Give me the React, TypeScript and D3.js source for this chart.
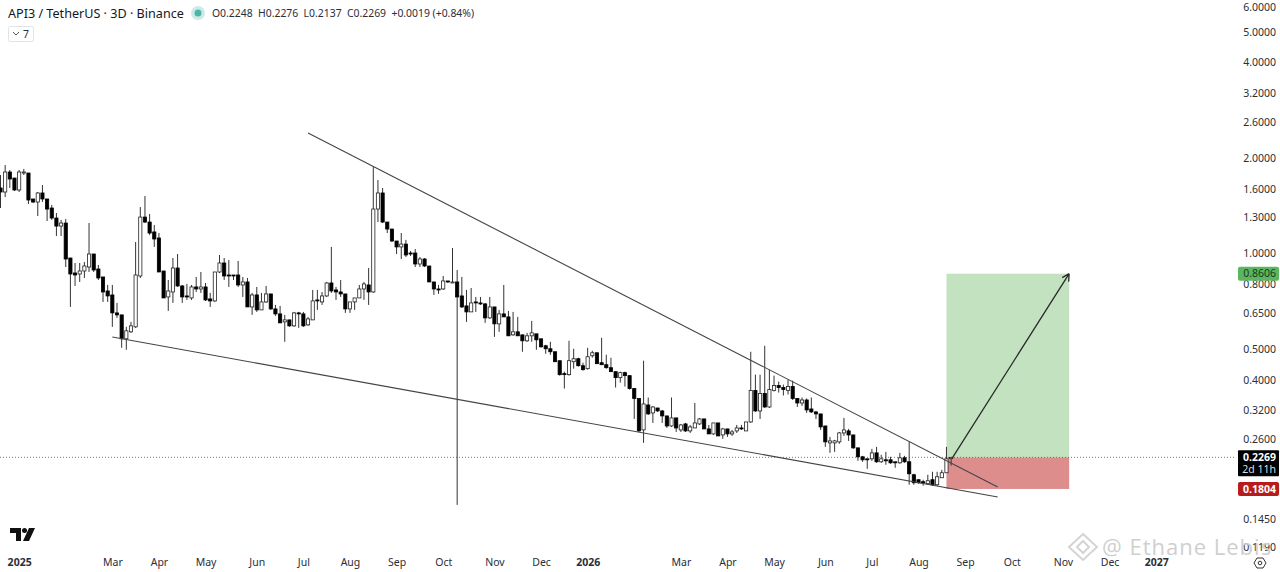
import React, { useRef, useEffect } from 'react';
import * as d3 from 'd3';

const WIDTH = 1280;
const HEIGHT = 572;

// 3D candles, first one on 2024-12-21
const firstCandle = '2024-12-21';

const opens = [
  1.603, 1.557, 1.8, 1.723, 1.58, 1.787, 1.787, 1.48, 1.448, 1.546,
  1.48, 1.386, 1.289, 1.216, 1.243, 0.9644, 0.865, 0.8587, 0.8776, 0.9034,
  0.9928, 0.8904, 0.8403, 0.7592, 0.7375, 0.6474, 0.6381, 0.5364, 0.5643, 0.5851,
  0.8464, 1.298, 1.252, 1.165, 1.115, 0.8776, 0.7269, 0.7537, 0.8969, 0.7873,
  0.7322, 0.7217, 0.7816, 0.7703, 0.7816, 0.7165, 0.7062, 0.8713, 0.93, 0.8525,
  0.8525, 0.8525, 0.793, 0.8104, 0.6761, 0.7375, 0.6616, 0.7011, 0.7429, 0.6664,
  0.6427, 0.6066, 0.6154, 0.5893, 0.6474, 0.6427, 0.5936, 0.6154, 0.7113, 0.7011,
  0.7322, 0.8045, 0.7648, 0.7537, 0.7429, 0.6664, 0.7011, 0.7217, 0.7703, 0.793,
  0.7537, 1.376, 1.546, 1.252, 1.19, 1.091, 1.045, 1.067, 1.0, 1.0,
  0.9233, 0.9574, 0.91, 0.8104, 0.7703, 0.7703, 0.8163, 0.8045, 0.8104, 0.7322,
  0.6811, 0.6521, 0.7011, 0.696, 0.691, 0.6244, 0.6761, 0.5979, 0.6427, 0.6289,
  0.5521, 0.5643, 0.5521, 0.5287, 0.5482, 0.5562, 0.5364, 0.51, 0.499, 0.4883,
  0.4576, 0.4166, 0.4136, 0.4543, 0.4642, 0.4413, 0.4319, 0.4744, 0.4848, 0.451,
  0.4445, 0.435, 0.4226, 0.4047, 0.4196, 0.4106, 0.3738, 0.3479, 0.2769, 0.3319,
  0.3132, 0.3247, 0.3178, 0.3065, 0.285, 0.3021, 0.2769, 0.2892, 0.2749, 0.2809,
  0.2892, 0.2999, 0.2789, 0.269, 0.2913, 0.267, 0.2789, 0.269, 0.2749, 0.2809,
  0.2749, 0.2934, 0.3685, 0.3178, 0.3606, 0.3271, 0.3685, 0.382, 0.3766, 0.3685,
  0.3793, 0.3479, 0.3367, 0.3441, 0.3224, 0.3155, 0.311, 0.285, 0.252, 0.252,
  0.2539, 0.2709, 0.2749, 0.267, 0.2431, 0.2278, 0.2245, 0.2245, 0.2344, 0.2197,
  0.2229, 0.2229, 0.2197, 0.2181, 0.2261, 0.2197, 0.2, 0.1929, 0.1901, 0.1874,
  0.1929, 0.186, 0.1957, 0.2029, 0.2248,
];

const highs = [
  1.761, 1.894, 1.827, 1.723, 1.827, 1.84, 1.787, 1.48, 1.557, 1.638,
  1.48, 1.417, 1.337, 1.271, 1.28, 0.9644, 0.93, 0.93, 0.9368, 1.243,
  0.9928, 0.9166, 0.8403, 0.793, 0.793, 0.696, 0.6381, 0.5851, 0.6066, 1.083,
  1.396, 1.512, 1.327, 1.225, 1.156, 0.8776, 0.8222, 0.9644, 0.9928, 0.793,
  0.7987, 0.793, 0.8403, 0.8713, 0.8045, 0.7483, 0.8713, 0.9856, 0.9644, 0.9505,
  0.8525, 0.9436, 0.8403, 0.8342, 0.7483, 0.7816, 0.7483, 0.7873, 0.7429, 0.686,
  0.6811, 0.6381, 0.6154, 0.6521, 0.6521, 0.6521, 0.6289, 0.7648, 0.7648, 0.7537,
  0.8104, 1.045, 0.7816, 0.8222, 0.7429, 0.7011, 0.7217, 0.793, 0.8104, 0.8969,
  1.867, 1.698, 1.603, 1.252, 1.19, 1.091, 1.156, 1.1, 1.015, 1.029,
  0.9714, 0.9644, 0.91, 0.8104, 0.793, 0.8464, 0.8163, 1.037, 0.884, 0.8403,
  0.7648, 0.7759, 0.7269, 0.7269, 0.696, 0.7269, 0.6761, 0.6616, 0.793, 0.6568,
  0.6521, 0.6289, 0.5521, 0.5602, 0.611, 0.5562, 0.5364, 0.5137, 0.5249, 0.4883,
  0.4576, 0.4226, 0.5287, 0.499, 0.4676, 0.451, 0.5026, 0.4919, 0.4848, 0.5403,
  0.4779, 0.4676, 0.4226, 0.4226, 0.4226, 0.4106, 0.3738, 0.3479, 0.4576, 0.3504,
  0.3295, 0.3247, 0.3201, 0.3065, 0.3504, 0.3021, 0.2892, 0.2913, 0.2871, 0.3367,
  0.3021, 0.2999, 0.2871, 0.2913, 0.2913, 0.2809, 0.2789, 0.2769, 0.2871, 0.2871,
  0.2934, 0.4883, 0.4136, 0.4136, 0.51, 0.4288, 0.4106, 0.3932, 0.3848, 0.3989,
  0.396, 0.3479, 0.3504, 0.3479, 0.3504, 0.3178, 0.311, 0.285, 0.2632, 0.2576,
  0.2729, 0.3021, 0.2789, 0.267, 0.2431, 0.2294, 0.2245, 0.2413, 0.2448, 0.2311,
  0.2361, 0.2278, 0.2197, 0.2344, 0.2294, 0.2539, 0.2014, 0.1929, 0.1929, 0.2,
  0.2044, 0.2044, 0.2073, 0.2448, 0.2276,
];

const lows = [
  1.386, 1.501, 1.603, 1.568, 1.557, 1.761, 1.427, 1.437, 1.308, 1.448,
  1.261, 1.271, 1.131, 1.131, 0.9034, 0.6761, 0.7873, 0.8104, 0.8342, 0.8713,
  0.8713, 0.8222, 0.7011, 0.7011, 0.5851, 0.6244, 0.5026, 0.4954, 0.5602, 0.5808,
  0.8342, 1.243, 1.14, 1.045, 0.8713, 0.7217, 0.6568, 0.696, 0.7816, 0.696,
  0.7113, 0.7113, 0.7537, 0.7483, 0.7062, 0.6761, 0.7011, 0.865, 0.8222, 0.7816,
  0.8222, 0.7816, 0.7269, 0.6761, 0.6381, 0.6521, 0.6616, 0.696, 0.6616, 0.6335,
  0.6022, 0.5249, 0.5851, 0.5851, 0.5808, 0.5851, 0.5893, 0.6154, 0.6616, 0.686,
  0.7269, 0.7483, 0.7113, 0.7269, 0.6474, 0.6474, 0.6616, 0.7217, 0.7113, 0.686,
  0.7483, 1.252, 1.243, 1.156, 1.083, 0.9928, 0.9574, 0.9714, 0.9785, 0.9034,
  0.9034, 0.9034, 0.8104, 0.7375, 0.7429, 0.7648, 0.8045, 0.8045, 0.1607, 0.6712,
  0.6066, 0.6521, 0.6521, 0.686, 0.6022, 0.6199, 0.5442, 0.5643, 0.6289, 0.5482,
  0.5482, 0.5482, 0.4883, 0.5249, 0.5249, 0.4954, 0.5026, 0.4813, 0.4779, 0.4543,
  0.4106, 0.3738, 0.4106, 0.4319, 0.4382, 0.4257, 0.4288, 0.4676, 0.4478, 0.4445,
  0.4319, 0.4226, 0.3766, 0.3904, 0.3793, 0.3712, 0.2999, 0.2729, 0.252, 0.3087,
  0.2913, 0.3155, 0.2913, 0.2809, 0.283, 0.2729, 0.2729, 0.2729, 0.2709, 0.2809,
  0.2871, 0.2789, 0.269, 0.267, 0.2651, 0.2594, 0.2632, 0.2651, 0.2709, 0.2769,
  0.2749, 0.2913, 0.3155, 0.2999, 0.3247, 0.3247, 0.3659, 0.3632, 0.3554, 0.358,
  0.3441, 0.3271, 0.3295, 0.3132, 0.3132, 0.2999, 0.2769, 0.2448, 0.2344, 0.2361,
  0.2502, 0.2651, 0.2557, 0.2413, 0.2213, 0.2197, 0.2088, 0.2213, 0.2181, 0.2181,
  0.215, 0.2165, 0.2104, 0.2165, 0.2181, 0.186, 0.186, 0.1874, 0.1847, 0.186,
  0.1847, 0.1847, 0.1957, 0.2029, 0.2137,
];

const closes = [
  1.557, 1.8, 1.711, 1.58, 1.8, 1.8, 1.469, 1.448, 1.546, 1.48,
  1.376, 1.289, 1.216, 1.243, 0.9574, 0.8587, 0.8525, 0.8776, 0.91, 0.9928,
  0.884, 0.8342, 0.7537, 0.7322, 0.6474, 0.6381, 0.5364, 0.5684, 0.5893, 0.8525,
  1.298, 1.252, 1.156, 1.107, 0.8713, 0.7217, 0.7592, 0.8969, 0.7873, 0.7269,
  0.7269, 0.7816, 0.7703, 0.7816, 0.7113, 0.7062, 0.8713, 0.93, 0.8464, 0.8464,
  0.8464, 0.793, 0.8104, 0.6761, 0.7375, 0.6616, 0.7011, 0.7429, 0.6664, 0.6427,
  0.6022, 0.6154, 0.5893, 0.6474, 0.6427, 0.5893, 0.6199, 0.7062, 0.7062, 0.7322,
  0.8045, 0.7592, 0.7537, 0.7429, 0.6664, 0.7011, 0.7217, 0.7703, 0.7987, 0.7537,
  1.376, 1.546, 1.252, 1.19, 1.091, 1.045, 1.067, 0.9856, 0.9928, 0.9233,
  0.9574, 0.91, 0.8104, 0.7703, 0.7648, 0.8163, 0.8104, 0.8104, 0.7269, 0.6761,
  0.6521, 0.696, 0.696, 0.691, 0.6244, 0.6761, 0.5979, 0.6427, 0.6289, 0.5482,
  0.5643, 0.5482, 0.5287, 0.5482, 0.5602, 0.5325, 0.5063, 0.499, 0.4883, 0.4543,
  0.4136, 0.4136, 0.4576, 0.4642, 0.4413, 0.4288, 0.471, 0.4848, 0.4478, 0.4445,
  0.435, 0.4226, 0.4047, 0.4196, 0.4106, 0.3738, 0.3479, 0.2749, 0.3343, 0.311,
  0.3271, 0.3178, 0.3065, 0.285, 0.3021, 0.2809, 0.2871, 0.2749, 0.283, 0.2913,
  0.2999, 0.2789, 0.269, 0.2913, 0.2651, 0.2789, 0.269, 0.2729, 0.2809, 0.2789,
  0.2934, 0.3685, 0.3178, 0.3606, 0.3271, 0.3712, 0.382, 0.3766, 0.3712, 0.3793,
  0.3479, 0.3367, 0.3441, 0.3201, 0.3155, 0.311, 0.283, 0.2539, 0.2557, 0.2557,
  0.2709, 0.2769, 0.267, 0.2431, 0.2278, 0.2229, 0.2229, 0.2344, 0.2197, 0.2245,
  0.2213, 0.2181, 0.2181, 0.2261, 0.2197, 0.2014, 0.1887, 0.1887, 0.1887, 0.1915,
  0.186, 0.1971, 0.2029, 0.2245, 0.2269,
];

const priceTicks = [6, 5, 4, 3.2, 2.6, 2, 1.6, 1.3, 1, 0.8, 0.65, 0.5, 0.4, 0.32, 0.26, 0.145, 0.119];

const timeLabels = ['2025', 'Mar', 'Apr', 'May', 'Jun', 'Jul', 'Aug', 'Sep', 'Oct', 'Nov', 'Dec', '2026', 'Mar', 'Apr', 'May', 'Jun', 'Jul', 'Aug', 'Sep', 'Oct', 'Nov', 'Dec', '2027'];
const timeDates = [
  '2025-01-02', '2025-03-03', '2025-04-02', '2025-05-02', '2025-06-04', '2025-07-04', '2025-08-03', '2025-09-02',
  '2025-10-02', '2025-11-04', '2025-12-04', '2026-01-03', '2026-03-04', '2026-04-03', '2026-05-03', '2026-06-05',
  '2026-07-05', '2026-08-04', '2026-09-03', '2026-10-03', '2026-11-05', '2026-12-05', '2027-01-04',
];

// drawn trendlines: [date, price] ends
const upperLine: [string, number][] = [['2025-07-07', 2.389], ['2026-09-24', 0.183]];
const lowerLine: [string, number][] = [['2025-03-03', 0.5436], ['2026-09-24', 0.1702]];

// long position tool
const entryPrice = 0.2269;
const targetPrice = 0.8606;
const stopPrice = 0.1804;
const positionStart = '2026-08-22';
const positionEnd = '2026-11-09';
const arrowStart = '2026-08-26';

const FONT = "'Noto Sans', sans-serif";
const utc = (s: string) => new Date(s + 'T00:00:00Z');

const App: React.FC = () => {
  const ref = useRef<SVGSVGElement | null>(null);

  useEffect(() => {
    if (!ref.current) return;
    const svg = d3.select<SVGSVGElement, unknown>(ref.current);
    svg.selectAll('*').remove();

    const candles = opens.map((o, i) => ({
      date: d3.utcDay.offset(utc(firstCandle), i * 3),
      o,
      h: highs[i],
      l: lows[i],
      c: closes[i],
    }));

    // 207 candles after the first one is Sep 2026 on the time axis
    const x = d3
      .scaleUtc()
      .domain([utc(firstCandle), d3.utcDay.offset(utc(firstCandle), 207 * 3)])
      .range([0.5, 965.1]);
    const y = d3.scaleLog().domain([2, 0.5]).range([157.5, 348.5]);

    svg.append('rect').attr('width', WIDTH).attr('height', HEIGHT).attr('fill', '#fff');

    // Position boxes
    svg
      .append('rect')
      .attr('x', x(utc(positionStart)))
      .attr('y', y(targetPrice))
      .attr('width', x(utc(positionEnd)) - x(utc(positionStart)))
      .attr('height', y(entryPrice) - y(targetPrice))
      .attr('fill', '#c3e3c0');
    svg
      .append('rect')
      .attr('x', x(utc(positionStart)))
      .attr('y', y(entryPrice))
      .attr('width', x(utc(positionEnd)) - x(utc(positionStart)))
      .attr('height', y(stopPrice) - y(entryPrice))
      .attr('fill', '#de8d8d');

    // Last price line
    svg
      .append('line')
      .attr('x1', 0)
      .attr('x2', 1236)
      .attr('y1', y(entryPrice))
      .attr('y2', y(entryPrice))
      .attr('stroke', '#555')
      .attr('stroke-width', 0.8)
      .attr('stroke-dasharray', '1 2');

    // Wicks and bodies
    const g = svg.append('g');
    g.selectAll('line')
      .data(candles)
      .enter()
      .append('line')
      .attr('x1', d => x(d.date))
      .attr('x2', d => x(d.date))
      .attr('y1', d => y(d.h))
      .attr('y2', d => y(d.l))
      .attr('stroke', '#333')
      .attr('stroke-width', 1);
    g.selectAll('rect')
      .data(candles)
      .enter()
      .append('rect')
      .attr('x', d => x(d.date) - 1.6)
      .attr('width', 3.2)
      .attr('y', d => y(Math.max(d.o, d.c)))
      .attr('height', d => Math.max(1, Math.abs(y(d.o) - y(d.c))))
      .attr('fill', d => (d.c >= d.o ? '#fff' : '#000'))
      .attr('stroke', d => (d.c >= d.o ? '#222' : '#000'))
      .attr('stroke-width', 0.8);

    // Trendlines
    const lineGen = d3
      .line<[string, number]>()
      .x(d => x(utc(d[0])))
      .y(d => y(d[1]));
    [upperLine, lowerLine].forEach(l => {
      svg
        .append('path')
        .attr('d', lineGen(l))
        .attr('fill', 'none')
        .attr('stroke', '#444')
        .attr('stroke-width', 1.1);
    });

    // Arrow to the target
    const ax0 = x(utc(arrowStart));
    const ay0 = y(entryPrice);
    const ax1 = x(utc(positionEnd));
    const ay1 = y(targetPrice);
    const ang = Math.atan2(ay1 - ay0, ax1 - ax0);
    const head = (a: number) => `M${ax1 - 8 * Math.cos(ang + a)},${ay1 - 8 * Math.sin(ang + a)}L${ax1},${ay1}`;
    svg
      .append('path')
      .attr('d', `M${ax0},${ay0}L${ax1},${ay1}${head(0.5)}${head(-0.5)}`)
      .attr('fill', 'none')
      .attr('stroke', '#2a2a2a')
      .attr('stroke-width', 1.3);

    // Price axis
    const yAxis = svg
      .append('g')
      .attr('transform', 'translate(1276,0.5)')
      .call(
        d3
          .axisRight(y)
          .tickValues(priceTicks)
          .tickFormat(d => d3.format('.4f')(d as number))
          .tickSize(0)
          .tickPadding(0)
      );
    yAxis.select('.domain').remove();
    yAxis
      .selectAll('text')
      .attr('text-anchor', 'end')
      .attr('font-family', FONT)
      .attr('font-size', 10.5)
      .attr('fill', '#2a2e39');

    // Time axis
    const xAxis = svg
      .append('g')
      .attr('transform', 'translate(0,556)')
      .call(
        d3
          .axisBottom(x)
          .tickValues(timeDates.map(utc))
          .tickFormat((_, i) => timeLabels[i])
          .tickSize(0)
          .tickPadding(3)
      );
    xAxis.select('.domain').remove();
    xAxis
      .selectAll<SVGTextElement, unknown>('text')
      .attr('font-family', FONT)
      .attr('font-size', 10.5)
      .attr('fill', '#2a2e39')
      .attr('font-weight', (_, i) => (/^\d+$/.test(timeLabels[i]) ? 700 : 400));

    // Price labels
    const label = (price: number, bg: string, fg: string, bold: boolean) => {
      const py = y(price);
      svg.append('rect').attr('x', 1238).attr('y', py - 7).attr('width', 41).attr('height', 14).attr('rx', 2).attr('fill', bg);
      svg
        .append('text')
        .attr('x', 1276)
        .attr('y', py + 3.7)
        .attr('text-anchor', 'end')
        .attr('font-family', FONT)
        .attr('font-size', 10.5)
        .attr('font-weight', bold ? 700 : 400)
        .attr('fill', fg)
        .text(d3.format('.4f')(price));
    };
    label(targetPrice, '#5cb660', '#1b3a1d', false);
    label(stopPrice, '#b71c1c', '#fff', true);

    const cy = y(entryPrice);
    svg.append('rect').attr('x', 1238).attr('y', cy - 7).attr('width', 41).attr('height', 26).attr('rx', 1).attr('fill', '#000');
    svg
      .append('text')
      .attr('x', 1276)
      .attr('y', cy + 3.7)
      .attr('text-anchor', 'end')
      .attr('font-family', FONT)
      .attr('font-size', 10.5)
      .attr('font-weight', 700)
      .attr('fill', '#fff')
      .text(d3.format('.4f')(entryPrice));
    svg
      .append('text')
      .attr('x', 1276)
      .attr('y', cy + 15.5)
      .attr('text-anchor', 'end')
      .attr('font-family', FONT)
      .attr('font-size', 10.5)
      .attr('fill', '#ddd')
      .text('2d 11h');

    // Header
    svg
      .append('text')
      .attr('x', 8)
      .attr('y', 18)
      .attr('font-family', FONT)
      .attr('font-size', 12.6)
      .attr('fill', '#131722')
      .text('API3 / TetherUS · 3D · Binance');
    svg.append('circle').attr('cx', 198).attr('cy', 13).attr('r', 7).attr('fill', '#cdeae6');
    svg.append('circle').attr('cx', 198).attr('cy', 13).attr('r', 3.5).attr('fill', '#4db6a6');
    svg
      .append('text')
      .attr('x', 212)
      .attr('y', 17)
      .attr('font-family', FONT)
      .attr('font-size', 10.4)
      .attr('fill', '#2a2e39')
      .attr('xml:space', 'preserve')
      .text('O0.2248  H0.2276  L0.2137  C0.2269  +0.0019 (+0.84%)');
    svg.append('rect').attr('x', 8.5).attr('y', 26.5).attr('width', 25).attr('height', 15).attr('rx', 2).attr('fill', '#fff').attr('stroke', '#e0e3eb');
    svg.append('path').attr('d', 'M13,32L16,35L19,32').attr('fill', 'none').attr('stroke', '#555').attr('stroke-width', 1);
    svg.append('text').attr('x', 23).attr('y', 38).attr('font-family', FONT).attr('font-size', 10.5).attr('fill', '#2a2e39').text('7');

    // TradingView mark
    svg.append('path').attr('d', 'M10,528H21V541H16V533H10ZM29,528H35L29,541H23Z').attr('fill', '#111');
    svg.append('circle').attr('cx', 24.5).attr('cy', 530.5).attr('r', 2.5).attr('fill', '#111');

    // Settings icon
    svg.append('path').attr('d', 'M1254,563L1257,558H1263L1266,563L1263,568H1257Z').attr('fill', 'none').attr('stroke', '#333');
    svg.append('circle').attr('cx', 1260).attr('cy', 563).attr('r', 1.8).attr('fill', 'none').attr('stroke', '#333');

    // Watermark
    const wm = svg.append('g').attr('fill', 'none').attr('stroke', '#d4d4d4').attr('stroke-width', 2);
    wm.append('path').attr('d', 'M1083,534L1097,547L1083,560L1069,547Z');
    wm.append('path').attr('d', 'M1083,541L1089,547L1083,553L1077,547Z');
    svg
      .append('text')
      .attr('x', 1102)
      .attr('y', 555)
      .attr('font-family', "'Open Sans', sans-serif")
      .attr('font-size', 22)
      .attr('letter-spacing', 1)
      .attr('fill', '#cfcfcf')
      .text('@ Ethane Lebis');
  }, []);

  return <svg ref={ref} width={WIDTH} height={HEIGHT} style={{ position: 'absolute', left: 0, top: 0 }} />;
};

export default App;
